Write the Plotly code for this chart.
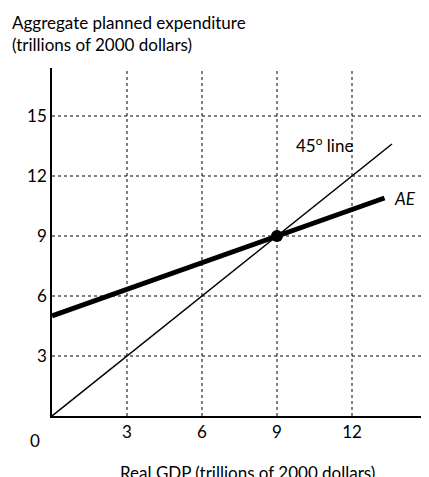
import plotly.graph_objects as go

x_ticks = [3, 6, 9, 12]
y_ticks = [3, 6, 9, 12, 15]
line45_x = [0, 13.6]
line45_y = [0, 13.6]
ae_x = [0, 13.3]
ae_y = [5, 10.9]
eq_x = [9]
eq_y = [9]

fig = go.Figure()
grid = dict(color="black", width=1, dash="dot")
for t in x_ticks:
    fig.add_shape(type="line", x0=t, x1=t, y0=0, y1=17.4, line=grid, layer="below")
for t in y_ticks:
    fig.add_shape(type="line", x0=0, x1=14.8, y0=t, y1=t, line=grid, layer="below")

fig.add_trace(go.Scatter(x=line45_x, y=line45_y, mode="lines",
                         line=dict(color="black", width=1.5)))
fig.add_trace(go.Scatter(x=ae_x, y=ae_y, mode="lines",
                         line=dict(color="black", width=5)))
fig.add_trace(go.Scatter(x=eq_x, y=eq_y, mode="markers",
                         marker=dict(color="black", size=12)))

font = dict(family="Lato, Open Sans, sans-serif", size=17, color="black")
fig.add_annotation(x=10.9, y=13.6, text="45<sup>o</sup> line", showarrow=False, font=font)
fig.add_annotation(x=14.1, y=10.9, text="<i>AE</i>", showarrow=False, font=font)
fig.add_annotation(x=0, y=0, xref="paper", yref="paper", xshift=-10, yshift=-12,
                   text="0", showarrow=False, font=font,
                   xanchor="right", yanchor="top")
fig.add_annotation(x=0, y=1, xref="paper", yref="paper", xshift=-42, yshift=58,
                   text="Aggregate planned expenditure<br>(trillions of 2000 dollars)",
                   showarrow=False, font=font, xanchor="left", yanchor="top", align="left")
fig.add_annotation(x=0.52, y=0, xref="paper", yref="paper", yshift=-44,
                   text="Real GDP (trillions of 2000 dollars)",
                   showarrow=False, font=font, yanchor="top")

fig.update_layout(
    width=429, height=477, showlegend=False,
    margin=dict(l=44, r=9, t=60, b=69),
    plot_bgcolor="white", paper_bgcolor="white", font=font,
    xaxis=dict(range=[0, 15.04], tickvals=x_ticks, showgrid=False, zeroline=False,
               showline=True, linecolor="black", linewidth=1.5, ticks="", ticklen=8),
    yaxis=dict(range=[0, 17.4], tickvals=y_ticks, showgrid=False, zeroline=False,
               showline=True, linecolor="black", linewidth=1.5, ticks=""),
)
fig.write_html("out.html")
